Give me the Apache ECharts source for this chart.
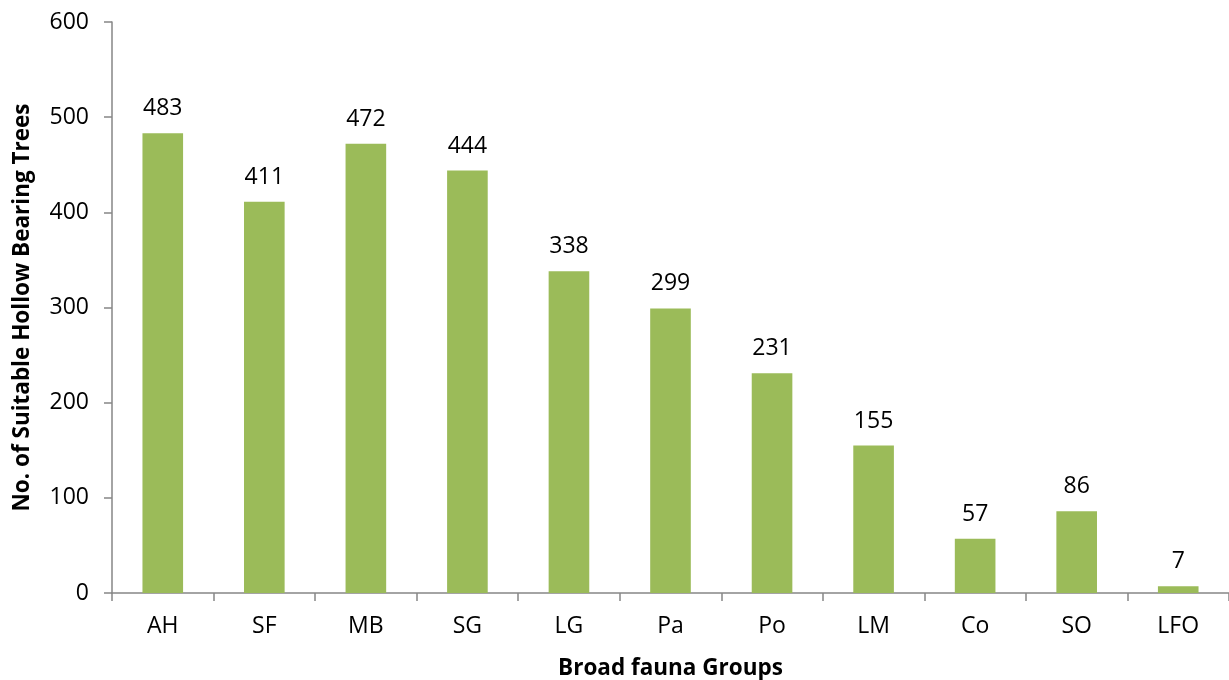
<!DOCTYPE html>
<html>
<head>
<meta charset="utf-8">
<script src="https://cdn.jsdelivr.net/npm/echarts@6/dist/echarts.min.js"></script>
<style>html,body{margin:0;padding:0;background:#fff;}#c{width:1229px;height:680px;}</style>
</head>
<body>
<div id="c"></div>
<script>
const categories = ['AH','SF','MB','SG','LG','Pa','Po','LM','Co','SO','LFO'];
const values = [483,411,472,444,338,299,231,155,57,86,7];
const yTicks = [0,100,200,300,400,500,600];
const xTitle = 'Broad fauna Groups';
const yTitle = 'No. of Suitable Hollow Bearing Trees';

const font = '"Open Sans", "Noto Sans", sans-serif';
const chart = echarts.init(document.getElementById('c'), null, {renderer:'canvas'});
chart.setOption({
  animation:false,
  backgroundColor:'#fff',
  grid:{left:112, right:0, top:22, bottom:87, containLabel:false, outerBoundsMode:'none'},
  xAxis:{
    type:'category', data:categories,
    axisLine:{lineStyle:{color:'#868686', width:1.5}},
    axisTick:{show:true, length:8, lineStyle:{color:'#868686', width:1.5}},
    axisLabel:{color:'#000', fontSize:23, fontFamily:font, margin:22},
    name:xTitle, nameLocation:'middle', nameGap:64,
    nameTextStyle:{color:'#000', fontSize:22.5, fontWeight:'bold', fontFamily:font}
  },
  yAxis:{
    type:'value', min:yTicks[0], max:yTicks[yTicks.length-1], interval:100,
    axisLine:{show:true, lineStyle:{color:'#868686', width:1.5}},
    axisTick:{show:true, length:8, lineStyle:{color:'#868686', width:1.5}},
    splitLine:{show:false},
    axisLabel:{color:'#000', fontSize:23, fontFamily:font, margin:23},
    name:yTitle, nameLocation:'middle', nameGap:78, nameRotate:90,
    nameTextStyle:{color:'#000', fontSize:22.5, fontWeight:'bold', fontFamily:font}
  },
  series:[{
    type:'bar', data:values, barWidth:'40%',
    itemStyle:{color:'#9BBB59'},
    label:{show:true, position:'top', distance:13, color:'#000', fontSize:23, fontFamily:font}
  }]
});
</script>
</body>
</html>
